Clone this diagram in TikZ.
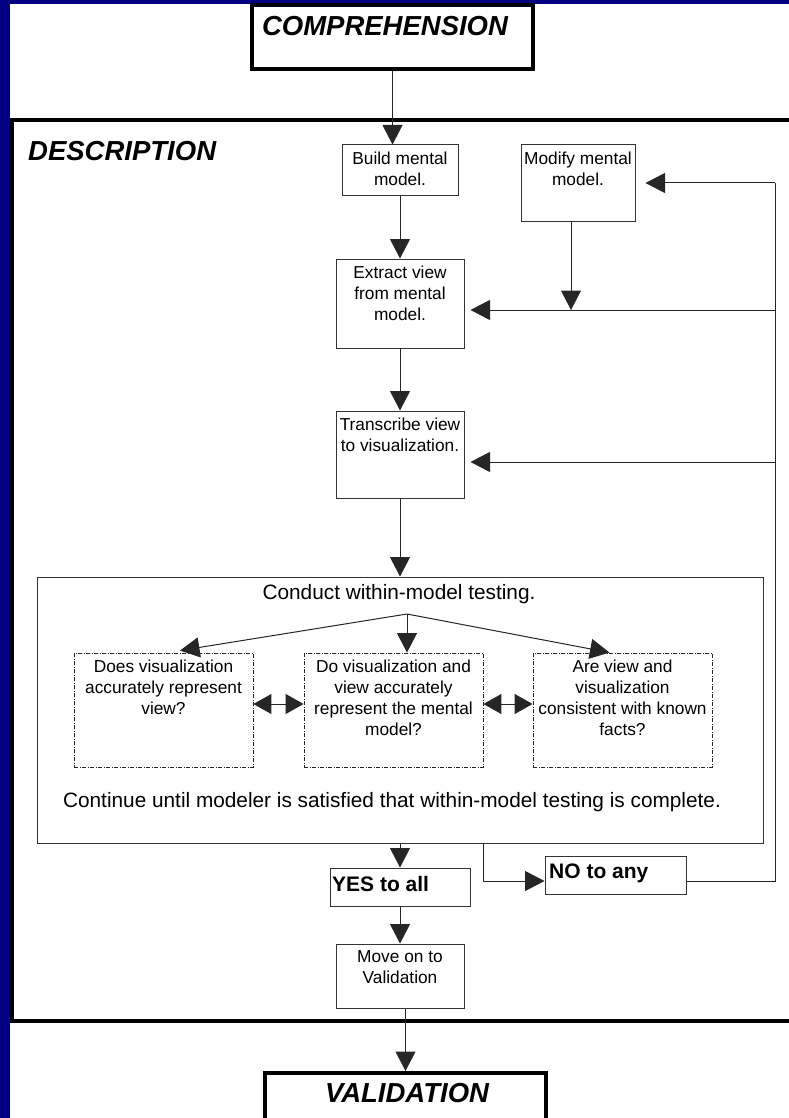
\documentclass[tikz,border=0pt]{standalone}
\usepackage{fontspec}
\setmainfont{Liberation Sans}
\usetikzlibrary{arrows.meta,calc}
\definecolor{navy}{HTML}{000080}
\begin{document}
\begin{tikzpicture}[x=1pt,y=-1pt,
  line/.style={draw=black!85, line width=1pt},
  arr/.style={line, -{Triangle[length=19.5pt,width=20pt]}},
  darr/.style={line, {Triangle[length=18pt,width=20pt]}-{Triangle[length=18pt,width=20pt]}},
  box/.style={draw=black!80, line width=1pt, fill=white, inner sep=0pt, rectangle},
  tbox/.style={draw=black, line width=3.5pt, fill=white, inner sep=0pt, rectangle},
  qbox/.style={draw=black!85, line width=0.9pt, dash pattern=on 4pt off 1.5pt on 1pt off 1.5pt, inner sep=0pt, rectangle},
  txt/.style={inner sep=0pt, align=center, font=\fontsize{17.3}{21}\selectfont},
  big/.style={inner sep=0pt, font=\fontsize{20.8}{25}\selectfont},
  bigb/.style={inner sep=0pt, font=\fontsize{21}{25}\selectfont\bfseries},
  ttl/.style={inner sep=0pt, font=\fontsize{27.5}{32}\selectfont\bfseries\itshape},
]
\useasboundingbox (0,0) rectangle (789,1118);
\clip (0,0) rectangle (789,1118);
\fill[navy] (0,0) rectangle (789,1118);
\fill[white] (10,4) rectangle (789,1118);

% description frame
\draw[line width=3.5pt, line join=miter] (800,120) -- (12,120) -- (12,1021) -- (800,1021);

% title boxes
\node[tbox, minimum width=281pt, minimum height=64pt] (comp) at (392.5,37) {};
\node[ttl, anchor=base] (compt) at (385,36) {COMPREHENSION};
\node[ttl, anchor=base west] (desct) at (28,161) {DESCRIPTION};
\node[tbox, minimum width=281pt, minimum height=70pt, anchor=north] (valid) at (405.5,1071) {};
\node[ttl, anchor=base] (validt) at (407,1102) {VALIDATION};

% process boxes
\node[box, minimum width=116pt, minimum height=50pt] (build) at (400,170) {};
\node[txt, anchor=north] (buildt) at ([yshift=-7pt]build.north) {Build mental\\model.};
\node[box, minimum width=114pt, minimum height=76pt] (modify) at (578,183) {};
\node[txt, anchor=north] (modifyt) at ([yshift=-7pt]modify.north) {Modify mental\\model.};
\node[box, minimum width=128pt, minimum height=89pt] (extract) at (400,303.5) {};
\node[txt, anchor=north] (extractt) at ([yshift=-7pt]extract.north) {Extract view\\from mental\\model.};
\node[box, minimum width=128pt, minimum height=87pt] (transcribe) at (400,454.5) {};
\node[txt, anchor=north] (transcribet) at ([yshift=-7pt]transcribe.north) {Transcribe view\\to visualization.};

\node[box, minimum width=726pt, minimum height=266pt] (conduct) at (400,710) {};
\node[big, anchor=base] (condt) at (399,599) {Conduct within-model testing.};
\node[big, anchor=base] (contt) at (392,807) {Continue until modeler is satisfied that within-model testing is complete.};

\node[qbox, minimum width=179pt, minimum height=114pt] (q1) at (163.5,710) {};
\node[txt, anchor=north] (q1t) at ([yshift=-7pt]q1.north) {Does visualization\\accurately represent\\view?};
\node[qbox, minimum width=179pt, minimum height=114pt] (q2) at (393.5,710) {};
\node[txt, anchor=north] (q2t) at ([yshift=-7pt]q2.north) {Do visualization and\\view accurately\\represent the mental\\model?};
\node[qbox, minimum width=179pt, minimum height=114pt] (q3) at (622.5,710) {};
\node[txt, anchor=north] (q3t) at ([yshift=-7pt]q3.north) {Are view and\\visualization\\consistent with known\\facts?};

\node[box, minimum width=140pt, minimum height=38pt] (yes) at (400,887) {};
\node[bigb, anchor=base west] (yest) at (332,891) {YES to all};
\node[box, minimum width=141pt, minimum height=38pt] (no) at (615.5,875) {};
\node[bigb, anchor=base west] (not) at (549,878) {NO to any};
\node[box, minimum width=128pt, minimum height=64pt] (move) at (400,976) {};
\node[txt, anchor=north] (movet) at ([yshift=-7pt]move.north) {Move on to\\Validation};

% coordinates
\coordinate (r1) at (775,183);
\coordinate (r2) at (775,310);
\coordinate (r3) at (775,462);
\coordinate (r4) at (775,881);
\coordinate (j1) at (571,310);
\coordinate (b) at (407,614);
\coordinate (c1) at (483,843);
\coordinate (n0) at (483,881);

% connectors
\draw[arr] (comp.south) -- (comp.south |- build.north);
\draw[arr] (build.south) -- (extract.north);
\draw[arr] (extract.south) -- (transcribe.north);
\draw[arr] (transcribe.south) -- (conduct.north);
\draw[arr] (j1 |- modify.south) -- (j1);
\draw[line] (no.east |- r4) -- (r4) -- (r1);
\draw[arr, shorten >=10pt] (r1) -- (r1 -| modify.east);
\draw[arr, shorten >=6pt] (r2) -- (r2 -| extract.east);
\draw[arr, shorten >=6pt] (r3) -- (r3 -| transcribe.east);

\draw[arr] (b) -- ([xshift=16.5pt,yshift=2pt]q1.north);
\draw[arr] (b) -- (b |- q2.north);
\draw[arr] (b) -- ([xshift=-13pt]q3.north);
\draw[darr] ([yshift=6pt]q1.east) -- ([yshift=6pt]q2.west);
\draw[darr] ([yshift=6pt]q2.east) -- ([yshift=6pt]q3.west);

\draw[arr] (conduct.south) -- (yes.north);
\draw[arr] (c1) -- (n0) -- (n0 -| no.west);
\draw[arr] (yes.south) -- (move.north);
\draw[arr] (valid.north |- move.south) -- (valid.north);
\end{tikzpicture}
\end{document}
